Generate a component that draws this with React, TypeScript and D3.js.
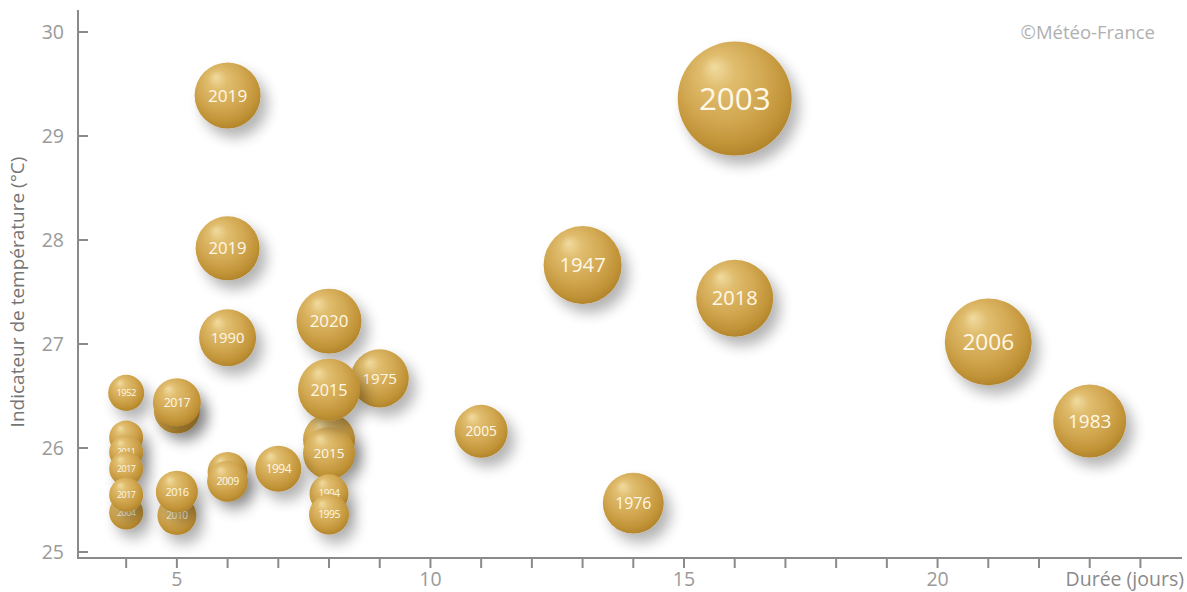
import React from "react";
import * as d3 from "d3";

// Heatwaves: duration (days), temperature indicator (°C), severity (bubble area), label
const years = [
  "2003", "2019", "2019", "1990", "1975", "2020", "2015", "2015", "2015",
  "1994", "1995", "2005", "1976", "1947", "2018", "2006", "1983", "1952",
  "2017", "2017", "2012", "2011", "2017", "2004", "2017", "2010", "2016",
  "2009", "2009", "1994",
];
const durations = [
  16, 6, 6, 6, 9, 8, 8, 8, 8,
  8, 8, 11, 14, 13, 16, 21, 23, 4,
  5, 5, 4, 4, 4, 4, 4, 5, 5,
  6, 6, 7,
];
const temperatures = [
  29.36, 29.39, 27.92, 27.06, 26.67, 27.22, 26.08, 25.95, 26.56,
  25.56, 25.36, 26.16, 25.47, 27.76, 27.44, 27.02, 26.26, 26.53,
  26.36, 26.44, 26.1, 25.96, 25.8, 25.38, 25.55, 25.35, 25.58,
  25.77, 25.68, 25.8,
];
const severities = [
  100, 33.5, 31.5, 25, 26, 32.5, 20.8, 20.8, 29.6,
  11.7, 12.3, 21.6, 28.6, 46.8, 45.6, 58.2, 41, 10,
  16.3, 17.7, 8.9, 8.9, 8.9, 8.9, 8.9, 11.7, 13.6,
  12.3, 12.9, 16.3,
];
// labels hidden behind a bubble drawn in front of them in the reference
const labelHidden = [
  false, false, false, false, false, false, true, false, false,
  false, false, false, false, false, false, false, false, false,
  true, false, true, false, false, false, false, false, false,
  true, false, false,
];

const yTicks = [25, 26, 27, 28, 29, 30];
const xTicks = d3.range(4, 25);
const xLabelTicks = [5, 10, 15, 20];

const W = 1187;
const H = 592;

export default function App() {
  const x = d3.scaleLinear().domain([3.05, 24.82]).range([78, 1182]);
  const y = d3.scaleLinear().domain([25, 30]).range([552, 32]);
  const r = d3.scaleSqrt().domain([0, 100]).range([0, 57]);
  const axisColor = "#8a8a8a";
  const tickTextColor = "#9a9a9a";
  const font = "'Open Sans', 'Noto Sans', sans-serif";

  const bubbles = years.map((yr, i) => ({
    yr,
    hidden: labelHidden[i],
    cx: x(durations[i]),
    cy: y(temperatures[i]),
    rad: r(severities[i]),
  }));

  return (
    <svg
      width={W}
      height={H}
      style={{ position: "absolute", left: 0, top: 0, background: "#fff" }}
      fontFamily={font}
    >
      <defs>
        <radialGradient id="gold" cx="45%" cy="40%" r="60%" fx="32%" fy="22%">
          <stop offset="0%" stopColor="#f1dba0" />
          <stop offset="25%" stopColor="#e0bd6e" />
          <stop offset="60%" stopColor="#d2a852" />
          <stop offset="88%" stopColor="#c19337" />
          <stop offset="100%" stopColor="#b3852c" />
        </radialGradient>
        <filter id="shadow" x="-50%" y="-50%" width="220%" height="220%">
          <feGaussianBlur in="SourceAlpha" stdDeviation="7" />
          <feOffset dx="7" dy="9" result="blur" />
          <feComponentTransfer>
            <feFuncA type="linear" slope="0.3" />
          </feComponentTransfer>
          <feMerge>
            <feMergeNode />
            <feMergeNode in="SourceGraphic" />
          </feMerge>
        </filter>
      </defs>

      {/* axes */}
      <line x1={78} x2={78} y1={10} y2={558} stroke={axisColor} strokeWidth={2} />
      <line x1={77} x2={1182} y1={558} y2={558} stroke={axisColor} strokeWidth={2} />
      {yTicks.map((t) => (
        <g key={"y" + t}>
          <line x1={78} x2={88} y1={y(t)} y2={y(t)} stroke={axisColor} strokeWidth={2} />
          <text
            x={64}
            y={y(t)}
            dy="0.35em"
            textAnchor="end"
            fontSize={19.5}
            fill={tickTextColor}
          >
            {t}
          </text>
        </g>
      ))}
      {xTicks.map((t) => (
        <line key={"x" + t} x1={x(t)} x2={x(t)} y1={558} y2={568} stroke={axisColor} strokeWidth={2} />
      ))}
      {xLabelTicks.map((t) => (
        <text key={"xl" + t} x={x(t)} y={586} textAnchor="middle" fontSize={19.5} fill={tickTextColor}>
          {t}
        </text>
      ))}
      <text x={1184} y={586} textAnchor="end" fontSize={19.5} fill="#8a8a8a">
        Durée (jours)
      </text>
      <text
        transform={`translate(24, 292) rotate(-90)`}
        textAnchor="middle"
        fontSize={19}
        fill="#757575"
      >
        Indicateur de température (°C)
      </text>
      <text x={1155} y={39} textAnchor="end" fontSize={18.5} fill="#b0b0b0">
        ©Météo-France
      </text>

      {/* bubbles */}
      {bubbles.map((b, i) => (
        <g key={i}>
          <circle cx={b.cx} cy={b.cy} r={b.rad} fill="url(#gold)" filter="url(#shadow)" />
          {!b.hidden && (
            <text
              x={b.cx}
              y={b.cy}
              dy="0.36em"
              textAnchor="middle"
              fontSize={b.rad > 50 ? b.rad * 0.55 : b.rad * 0.52}
              fill="#fff8e6"
              letterSpacing={b.rad < 25 ? -0.5 : 0}
            >
              {b.yr}
            </text>
          )}
        </g>
      ))}
    </svg>
  );
}
